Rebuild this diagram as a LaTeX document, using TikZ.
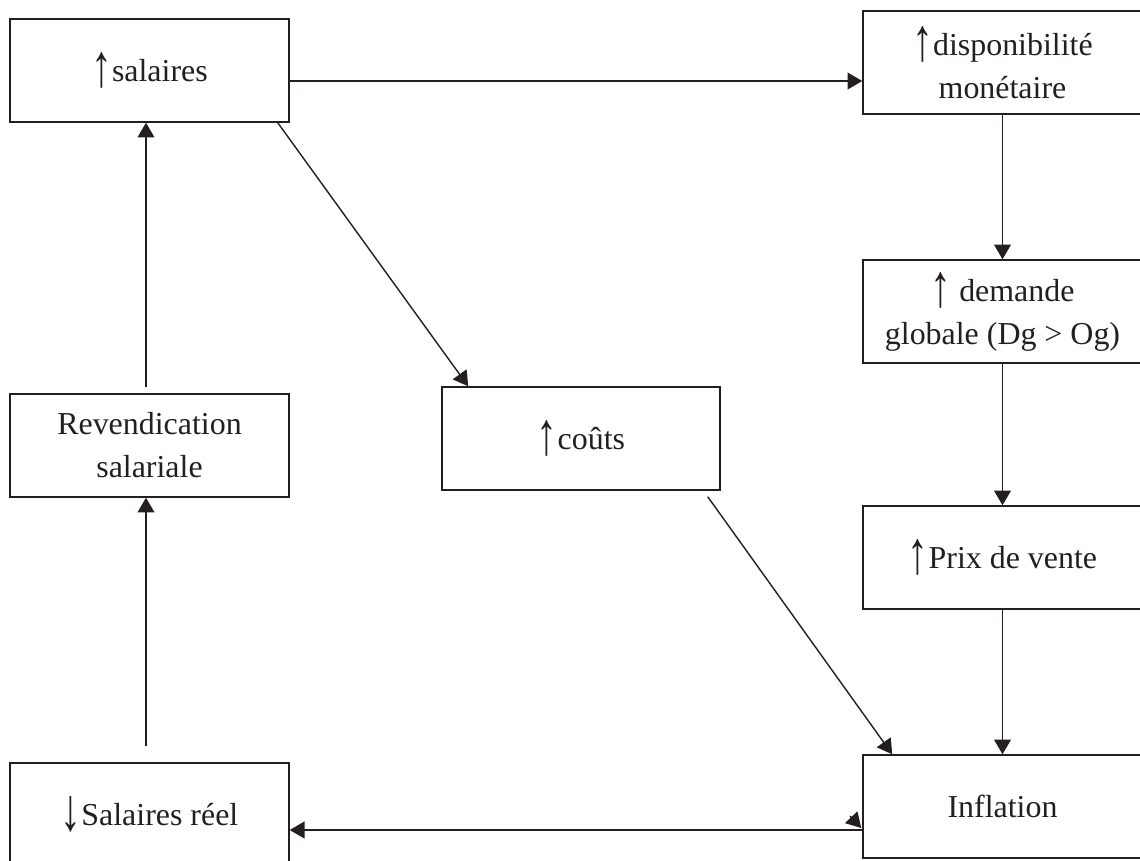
\documentclass[tikz,border=0pt]{standalone}
\usepackage{fontspec}
\setmainfont{Liberation Serif}
\usepackage{xcolor}
\usepackage{tikz}
\usetikzlibrary{arrows.meta,calc}
\definecolor{ink}{HTML}{231F20}
\newcommand\hup{\raisebox{-3.5pt}{\scalebox{1.3}[1.9]{↑}}}
\newcommand\hdown{\raisebox{-3.5pt}{\scalebox{1.3}[1.9]{↓}}}

\begin{document}
\begin{tikzpicture}[x=0.025cm,y=-0.025cm,
  box/.style={draw=ink,line width=1pt,inner sep=0pt,minimum width=6.975cm,minimum height=2.575cm,align=center,text=ink,font=\fontsize{22.7}{30.5}\selectfont},
  fl/.style={draw=ink,line width=1pt,-{Triangle[length=10.5pt,width=12pt]}}]
\useasboundingbox (0,0) rectangle (1140,861);
\clip (0,0) rectangle (1140,861);
% left column
\node[box] (sal) at (149.5,70.5) {\hup salaires};
\node[box] (rev) at (149.5,445.5) {Revendication\\salariale};
\node[box] (salr) at (149.5,814.5) {\hdown Salaires réel};
% middle
\node[box,minimum width=6.95cm] (couts) at (581,438.5) {\hup coûts};
% right column
\node[box] (dispo) at (1002.5,62.5) {\hup disponibilité\\monétaire};
\node[box] (dem) at (1002.5,311.5) {\hup{} demande\\globale (Dg > Og)};
\node[box] (prix) at (1002.5,557.5) {\hup Prix de vente};
\node[box] (infl) at (1002.5,806.5) {Inflation};
\coordinate (lvl) at (0,81);
\coordinate (st) at (850,816);
  \draw [fl] (sal.east |- lvl) -- (dispo.west |- lvl);
  \draw [fl] (dispo) -- (dem);
  \draw [fl] (dem) -- (prix);
  \draw [fl] (prix) -- (infl);
  \draw [fl] ($(sal.south east)+(-12,0)$) -- ($(couts.north west)+(27,0)$);
  \draw [fl] ($(couts.south east)+(-13,6)$) -- ($(infl.north west)+(30,0)$);
  \draw [fl] ($(infl.west)+(0,23.5)$) -- ($(salr.east)+(0,15.5)$);
  \draw [fl] ($(salr.north)+(-3.5,-16)$) -- ($(rev.south)+(-3.5,0)$);
  \draw [fl] ($(rev.north)+(-3.5,-6)$) -- ($(sal.south)+(-3.5,0)$);
  %\draw [fl] (infl.west) -- (salr.east);
  \draw [fl] (st) -- ($(infl.west)+(-1,21.5)$);
\end{tikzpicture}
\end{document}
